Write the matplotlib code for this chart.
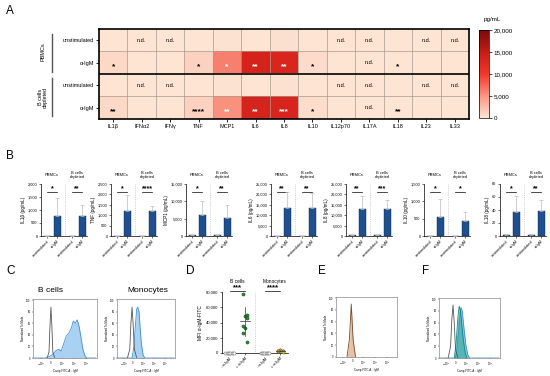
import numpy as np
import matplotlib.pyplot as plt
from matplotlib.colors import LinearSegmentedColormap
from matplotlib.lines import Line2D
from matplotlib.ticker import FuncFormatter
import matplotlib.transforms as mtransforms

plt.rcParams['font.family'] = ['Liberation Sans', 'DejaVu Sans']

# ---------------- data ----------------
cytokines = ['IL1β', 'IFNα2', 'IFNγ', 'TNF', 'MCP1', 'IL6', 'IL8', 'IL10',
             'IL12p70', 'IL17A', 'IL18', 'IL23', 'IL33']
row_labels = ['unstimulated', 'α-IgM', 'unstimulated', 'α-IgM']
heat_pbmc_unstim = [5, 0, 0, 20, 150, 30, 250, 5, 0, 0, 2, 0, 0]
heat_pbmc_igm = [760, 0, 10, 1220, 6100, 13500, 13000, 560, 0, 0, 37, 0, 0]
heat_bdep_unstim = [3, 0, 0, 15, 100, 20, 200, 3, 0, 0, 2, 0, 0]
heat_bdep_igm = [780, 0, 10, 1190, 5200, 13400, 13200, 430, 0, 0, 39, 0, 0]
nd_unstim = [False, True, True, False, False, False, False, False, True, True, False, True, True]
nd_igm = [False, False, False, False, False, False, False, False, False, True, False, False, False]
stars_pbmc = ['*', '', '', '*', '*', '**', '**', '*', '', '', '*', '', '']
stars_bdep = ['**', '', '', '****', '**', '**', '***', '*', '', '', '**', '', '']

b_names = ['IL1β', 'TNF', 'MCP1', 'IL6', 'IL8', 'IL10', 'IL18']
b_means = [[5, 760, 3, 780], [10, 1220, 8, 1190], [200, 6100, 150, 5200],
           [50, 13500, 40, 13400], [300, 13000, 250, 13200], [5, 560, 4, 430],
           [2, 37, 2, 39]]
b_upper = [[10, 1470, 6, 1200], [20, 1970, 15, 1420], [350, 10100, 250, 9000],
           [80, 21000, 70, 20500], [450, 19200, 350, 17300], [10, 1060, 8, 690],
           [3, 62, 3, 55]]
b_ymax = [2000, 2500, 15000, 25000, 25000, 1500, 80]
b_step = [500, 500, 5000, 5000, 5000, 500, 20]
b_stars = [['*', '**'], ['*', '****'], ['*', '**'], ['**', '**'], ['**', '***'],
           ['*', '*'], ['*', '**']]
b_xlabels = ['unstimulated', 'α-IgM', 'unstimulated', 'α-IgM']

d_bcell_neg = [300, 500, 200, 400, 600, 350, 450, 250]
d_bcell_pos = [77000, 50000, 49000, 46000, 36000, 33000, 26000, 15000]
d_mono_neg = [200, 300, 250, 400, 350, 300, 280, 220]
d_mono_pos = [2500, 3000, 3500, 2200, 2800, 4000, 3200, 1800]
d_xlabels = ['- α-IgM', '+ α-IgM', '- α-IgM', '+ α-IgM']

# flow histograms (x in axis fraction, y in % of mode)
cb_gray_x = [0.22, 0.25, 0.265, 0.28, 0.295, 0.31, 0.34]
cb_gray_y = [0, 10, 55, 88, 55, 10, 0]
cb_blue_x = [0.02, 0.20, 0.24, 0.28, 0.32, 0.36, 0.40, 0.44, 0.48, 0.52, 0.56, 0.60,
             0.63, 0.66, 0.69, 0.72, 0.75, 0.78, 0.81, 0.84, 0.98]
cb_blue_y = [0, 0, 2, 4, 8, 13, 15, 12, 25, 38, 43, 52, 64, 60, 66, 55, 35, 15, 4, 0, 0]
cm_gray_x = [0.18, 0.22, 0.24, 0.26, 0.28, 0.30, 0.34]
cm_gray_y = [0, 15, 60, 88, 55, 15, 0]
cm_blue_x = [0.02, 0.26, 0.29, 0.32, 0.34, 0.36, 0.38, 0.40, 0.42, 0.45, 0.48, 0.98]
cm_blue_y = [0, 0, 20, 60, 85, 88, 80, 50, 25, 5, 0, 0]
e_x = [0.18, 0.22, 0.24, 0.25, 0.26, 0.28, 0.32]
e_y = [0, 30, 70, 90, 70, 30, 0]
f_gray_x = [0.15, 0.19, 0.21, 0.23, 0.25, 0.27, 0.31]
f_gray_y = [0, 20, 65, 90, 60, 15, 0]
f_teal_x = [0.25, 0.28, 0.31, 0.33, 0.35, 0.37, 0.40, 0.43, 0.46]
f_teal_y = [0, 25, 70, 88, 82, 60, 30, 8, 0]
f_blue_x = [0.02, 0.27, 0.30, 0.33, 0.36, 0.38, 0.41, 0.44, 0.47, 0.50, 0.98]
f_blue_y = [0, 0, 20, 55, 86, 80, 50, 22, 6, 0, 0]
flow_ticks = [0.12, 0.27, 0.45, 0.64, 0.83]
flow_ticklabels = [r'$-10^3$', '0', r'$10^3$', r'$10^4$', r'$10^5$']

# ---------------- helpers ----------------
W, H = 550, 376
fig = plt.figure(figsize=(5.5, 3.76), dpi=100)


def box(l, t, r, b):
    return [l / W, 1 - b / H, (r - l) / W, (b - t) / H]


def fx(x):
    return x / W


def fy(y):
    return 1 - y / H


comma = FuncFormatter(lambda v, p: f'{int(v):,}')

for letter, x, y in [('A', 10, 11), ('B', 10, 156), ('C', 11, 271),
                     ('D', 190, 271), ('E', 322, 271), ('F', 426, 271)]:
    fig.text(fx(x), fy(y), letter, fontsize=8.5, ha='center', va='center')

# ---------------- A: heatmap ----------------
cmap = LinearSegmentedColormap.from_list(
    'pg', [(0, '#fde4d3'), (0.25, '#fa9583'), (0.5, '#f1372b'),
           (0.7, '#d1211a'), (1, '#7a0a0a')])
data = np.array([heat_pbmc_unstim, heat_pbmc_igm, heat_bdep_unstim, heat_bdep_igm])
ax = fig.add_axes(box(99, 29, 469, 119))
im = ax.imshow(data, cmap=cmap, vmin=0, vmax=20000, aspect='auto',
               interpolation='nearest')
for i in range(1, 13):
    ax.axvline(i - 0.5, color='#a89a8c', lw=0.5)
for yy in [0.5, 2.5]:
    ax.axhline(yy, color='#a89a8c', lw=0.5)
ax.axhline(1.5, color='black', lw=1.2)
for s in ax.spines.values():
    s.set_linewidth(1.2)
ax.set_xticks(range(13))
ax.set_xticklabels(cytokines)
ax.set_yticks(range(4))
ax.set_yticklabels(row_labels)
ax.tick_params(length=2, width=0.6, labelsize=4, pad=1.5)
nd_rows = [nd_unstim, nd_igm, nd_unstim, nd_igm]
star_rows = [None, stars_pbmc, None, stars_bdep]
for r in range(4):
    for c in range(13):
        col = 'white' if data[r, c] > 4000 else 'black'
        if nd_rows[r][c]:
            ax.text(c, r, 'n.d.', ha='center', va='center', fontsize=4, color=col)
        elif star_rows[r] is not None and star_rows[r][c]:
            ax.text(c, r + 0.18, star_rows[r][c], ha='center', va='center',
                    fontsize=6, color=col, fontweight='bold')

cax = fig.add_axes(box(479, 30, 489, 118))
cb = fig.colorbar(im, cax=cax, ticks=[0, 5000, 10000, 15000, 20000])
cb.ax.yaxis.set_major_formatter(comma)
cb.ax.tick_params(labelsize=4.5, length=2, width=0.5, pad=1.5)
cb.outline.set_linewidth(0.5)
fig.text(fx(484), fy(19), 'pg/mL', fontsize=4.5, ha='left', va='center')

fig.text(fx(43), fy(52), 'PBMCs', rotation=90, fontsize=4, ha='center', va='center')
fig.text(fx(43), fy(97), 'B cells\ndepleted', rotation=90, fontsize=4,
         ha='center', va='center', linespacing=1.0)
for y0, y1 in [(34, 72), (78, 116)]:
    fig.add_artist(Line2D([fx(52), fx(52)], [fy(y0), fy(y1)], color='#555555', lw=1.0))

# ---------------- B: bar charts ----------------
b_left = [41, 111, 186, 271, 346, 424, 500]
xpos = [0, 1, 2.5, 3.5]
for k in range(7):
    axb = fig.add_axes(box(b_left[k], 184, b_left[k] + 46, 236))
    means = np.array(b_means[k])
    err = np.array(b_upper[k]) - means
    axb.bar(xpos, means, width=0.7, color='#1d4f91', edgecolor='#0e2748', lw=0.3,
            yerr=[np.zeros(4), err], error_kw=dict(ecolor='#bbbbbb', elinewidth=0.5,
                                                   capsize=1.2, capthick=0.5), zorder=3)
    axb.set_xlim(-0.6, 4.0)
    axb.set_ylim(0, b_ymax[k])
    axb.set_yticks(np.arange(0, b_ymax[k] + 1, b_step[k]))
    axb.yaxis.set_major_formatter(comma)
    axb.set_xticks(xpos)
    axb.set_xticklabels(b_xlabels, rotation=45, ha='right', rotation_mode='anchor')
    axb.tick_params(labelsize=2.8, length=1.5, width=0.4, pad=1)
    for s in ['top', 'right']:
        axb.spines[s].set_visible(False)
    for s in ['left', 'bottom']:
        axb.spines[s].set_linewidth(0.5)
    axb.set_ylabel(f'{b_names[k]} (pg/mL)', fontsize=3.3, labelpad=1.5)
    axb.axvline(1.75, color='#aaaaaa', lw=0.5, ls=':')
    tr = mtransforms.blended_transform_factory(axb.transData, axb.transAxes)
    for g, (x0, x1) in enumerate([(0, 1), (2.5, 3.5)]):
        axb.plot([x0, x1], [0.85, 0.85], transform=tr, color='black', lw=0.5,
                 clip_on=False)
        axb.text((x0 + x1) / 2, 0.85, b_stars[k][g], transform=tr, ha='center',
                 va='bottom', fontsize=5, fontweight='bold')
    axb.text(0.5, 1.17, 'PBMCs', transform=tr, ha='center', va='center', fontsize=2.9)
    axb.text(3.0, 1.17, 'B cells\ndepleted', transform=tr, ha='center', va='center',
             fontsize=2.9, linespacing=1.0)

# ---------------- C: flow histograms ----------------


def flow_axes(l, t, r, b):
    a = fig.add_axes(box(l, t, r, b))
    a.set_xlim(0, 1)
    a.set_ylim(0, 102)
    a.set_xticks(flow_ticks)
    a.set_xticklabels(flow_ticklabels)
    a.set_yticks(range(0, 101, 20))
    a.tick_params(labelsize=1.8, length=1, width=0.3, pad=0.8)
    for s in a.spines.values():
        s.set_linewidth(0.5)
        s.set_color('#888888')
    a.set_xlabel('Comp-FITC-A :: IgM', fontsize=2, labelpad=1)
    a.set_ylabel('Normalized To Mode', fontsize=2, labelpad=1)
    return a


axc1 = flow_axes(33, 299, 97, 358)
axc1.fill_between(cb_blue_x, cb_blue_y, color='#a9d2f2', lw=0)
axc1.plot(cb_blue_x, cb_blue_y, color='#3f8fd6', lw=0.6)
axc1.plot(cb_gray_x, cb_gray_y, color='#555555', lw=0.6)
fig.text(fx(50), fy(290), 'B cells', fontsize=6, ha='center', va='center')

axc2 = flow_axes(117, 299, 175, 358)
axc2.fill_between(cm_blue_x, cm_blue_y, color='#a9d2f2', lw=0)
axc2.plot(cm_blue_x, cm_blue_y, color='#3f8fd6', lw=0.6)
axc2.plot(cm_gray_x, cm_gray_y, color='#555555', lw=0.6)
fig.text(fx(148), fy(290), 'Monocytes', fontsize=6, ha='center', va='center')

# ---------------- D: MFI scatter ----------------
axd = fig.add_axes(box(222, 292, 288, 353))
dpos = [0, 1, 2.3, 3.3]
groups = [d_bcell_neg, d_bcell_pos, d_mono_neg, d_mono_pos]
faces = ['white', '#2e8b3a', 'white', '#e0c800']
edges = ['#777777', '#1b4f22', '#777777', '#555555']
for g in range(4):
    vals = np.array(groups[g])
    n = len(vals)
    if g in (0, 2):
        off = np.linspace(-0.28, 0.28, n)
    else:
        off = np.where(np.arange(n) % 2, 0.15, -0.15) * (np.arange(n) % 3 != 2)
    axd.scatter(dpos[g] + off, vals, s=5, facecolor=faces[g], edgecolor=edges[g],
                lw=0.4, zorder=3, clip_on=False)
    m, sd = vals.mean(), vals.std(ddof=1)
    axd.plot([dpos[g] - 0.3, dpos[g] + 0.3], [m, m], color='#333333', lw=0.5, zorder=4)
    axd.plot([dpos[g], dpos[g]], [m - sd, m + sd], color='#333333', lw=0.5, zorder=4)
axd.set_xlim(-0.5, 3.8)
axd.set_ylim(0, 80000)
axd.set_yticks(range(0, 80001, 20000))
axd.yaxis.set_major_formatter(comma)
axd.set_xticks(dpos)
axd.set_xticklabels(d_xlabels, rotation=45, ha='right', rotation_mode='anchor')
axd.tick_params(labelsize=3, length=1.5, width=0.4, pad=1)
for s in ['top', 'right']:
    axd.spines[s].set_visible(False)
for s in ['left', 'bottom']:
    axd.spines[s].set_linewidth(0.5)
axd.set_ylabel('MFI α-IgM-FITC', fontsize=3.5, labelpad=2)
axd.axvline(1.65, color='#aaaaaa', lw=0.5, ls=':')
trd = mtransforms.blended_transform_factory(axd.transData, axd.transAxes)
for (x0, x1), st in zip([(0, 1), (2.3, 3.3)], ['***', '****']):
    axd.plot([x0, x1], [1.01, 1.01], transform=trd, color='black', lw=0.5, clip_on=False)
    axd.text((x0 + x1) / 2, 1.01, st, transform=trd, ha='center', va='bottom',
             fontsize=5.5, fontweight='bold')
axd.text(0.5, 1.18, 'B cells', transform=trd, ha='center', va='center', fontsize=3.5)
axd.text(2.9, 1.18, 'Monocytes', transform=trd, ha='center', va='center', fontsize=3.5)

# ---------------- E / F: flow histograms ----------------
axe = flow_axes(336, 297, 397, 357)
axe.fill_between(e_x, e_y, color='#e6c3a6', lw=0)
axe.plot(e_x, e_y, color='#7a4a2a', lw=0.6)

axf = flow_axes(439, 298, 500, 358)
axf.fill_between(f_blue_x, f_blue_y, color='#8fc8ee', lw=0)
axf.plot(f_blue_x, f_blue_y, color='#3f8fd6', lw=0.6)
axf.fill_between(f_teal_x, f_teal_y, color='#4fb5ae', lw=0, alpha=0.9)
axf.plot(f_teal_x, f_teal_y, color='#14867c', lw=0.6)
axf.plot(f_gray_x, f_gray_y, color='#555555', lw=0.6)

fig.savefig('out.png', dpi=100)
